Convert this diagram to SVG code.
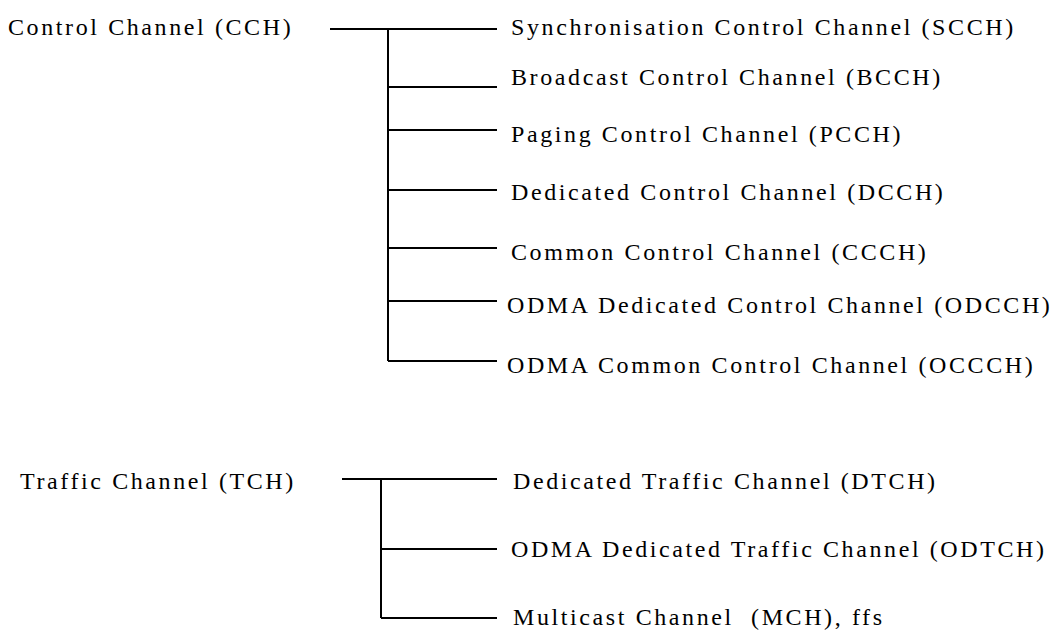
<svg xmlns="http://www.w3.org/2000/svg" width="1056" height="630" viewBox="0 0 1056 630">
  <style>
    .lbl { font-family: "Liberation Serif", "Times New Roman", serif; font-size: 24px; letter-spacing: 2.6px; fill: #000; white-space: pre; }
    .ln { stroke: #000; stroke-width: 2; fill: none; stroke-linecap: butt; }
  </style>
  <rect width="1056" height="630" fill="#fff"/>
  <g id="connectors">
    <path class="ln" d="M330 29 H497 M388 29 V361 M388 87 H497 M388 130 H497 M388 190 H497 M388 248 H497 M388 301 H497 M388 361 H497"/>
    <path class="ln" d="M342 479 H497 M381 479 V618 M381 549 H497 M381 618 H497"/>
  </g>
  <g id="cch"><text class="lbl" x="8" y="35">Control Channel (CCH)</text></g>
  <g id="scch"><text class="lbl" x="511" y="35">Synchronisation Control Channel (SCCH)</text></g>
  <g id="bcch"><text class="lbl" x="511" y="85">Broadcast Control Channel (BCCH)</text></g>
  <g id="pcch"><text class="lbl" x="511" y="142">Paging Control Channel (PCCH)</text></g>
  <g id="dcch"><text class="lbl" x="511" y="200">Dedicated Control Channel (DCCH)</text></g>
  <g id="ccch"><text class="lbl" x="511" y="260">Common Control Channel (CCCH)</text></g>
  <g id="odcch"><text class="lbl" x="507" y="313">ODMA Dedicated Control Channel (ODCCH)</text></g>
  <g id="occch"><text class="lbl" x="507" y="373">ODMA Common Control Channel (OCCCH)</text></g>
  <g id="tch"><text class="lbl" x="20" y="489">Traffic Channel (TCH)</text></g>
  <g id="dtch"><text class="lbl" x="513" y="489">Dedicated Traffic Channel (DTCH)</text></g>
  <g id="odtch"><text class="lbl" x="511" y="557">ODMA Dedicated Traffic Channel (ODTCH)</text></g>
  <g id="mch"><text class="lbl" x="513" y="625">Multicast Channel  (MCH), ffs</text></g>
</svg>
